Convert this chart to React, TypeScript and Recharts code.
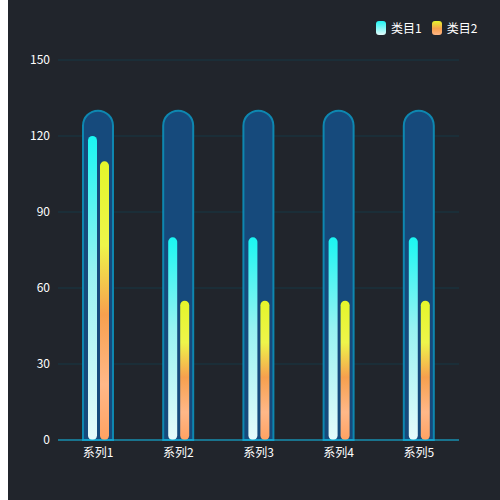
import { BarChart, Bar, XAxis, YAxis, CartesianGrid } from "recharts";

// Catégories et valeurs
const categories = ["系列1", "系列2", "系列3", "系列4", "系列5"];
const seriesNames = ["类目1", "类目2"];
const values1 = [120, 80, 80, 80, 80];
const values2 = [110, 55, 55, 55, 55];
const backValues = [130, 130, 130, 130, 130];
const yTicks = [0, 30, 60, 90, 120, 150];

const data = categories.map((name, i) => ({
    name,
    v1: values1[i],
    v2: values2[i],
    back: backValues[i],
}));

const legendGradients = [
    "linear-gradient(to bottom, #1ff5f2, #e4fbfb)",
    "linear-gradient(to bottom, #e6f52c, #f7a04e 55%, #ffb585)",
];

const font = "'Noto Sans CJK SC', sans-serif";

// Légende en HTML, posée au-dessus du graphique
function LegendBox() {
    return (
        <div style={{ position: "absolute", left: 368, top: 20, display: "flex", alignItems: "center", fontFamily: font, fontSize: 12, color: "#ffffff", lineHeight: "16px" }}>
            {seriesNames.map((s, i) => (
                <div key={s} style={{ display: "flex", alignItems: "center", marginLeft: i === 0 ? 0 : 10 }}>
                    <span style={{ width: 10, height: 14, borderRadius: 3, background: legendGradients[i], display: "inline-block", marginRight: 5 }} />
                    <span>{s}</span>
                </div>
            ))}
        </div>
    );
}

export default function App() {
    return (
        <div style={{ position: "absolute", left: 8, top: 0, width: 492, height: 500, background: "#21252c" }}>
            <BarChart
                width={492}
                height={500}
                data={data}
                barGap={3}
                margin={{ top: 60, right: 41, bottom: 30, left: 0 }}
            >
                <defs>
                    <linearGradient id="g1" x1="0" y1="0" x2="0" y2="1">
                        <stop offset="0%" stopColor="#1af6f2" />
                        <stop offset="45%" stopColor="#98f2f2" />
                        <stop offset="100%" stopColor="#e6fbfb" />
                    </linearGradient>
                    <linearGradient id="g2" x1="0" y1="0" x2="0" y2="1">
                        <stop offset="0%" stopColor="#e4f52a" />
                        <stop offset="30%" stopColor="#eef54a" />
                        <stop offset="55%" stopColor="#f7a04e" />
                        <stop offset="80%" stopColor="#ffb888" />
                        <stop offset="100%" stopColor="#ffa262" />
                    </linearGradient>
                </defs>
                <CartesianGrid vertical={false} stroke="#173845" />
                <XAxis
                    dataKey="name"
                    axisLine={{ stroke: "#19b8e2", strokeWidth: 1 }}
                    tickLine={false}
                    height={30}
                    tick={{ fill: "#ffffff", fontSize: 12, fontFamily: font }}
                />
                <XAxis xAxisId="back" dataKey="name" hide />
                <YAxis
                    width={50}
                    domain={[0, 150]}
                    ticks={yTicks}
                    axisLine={false}
                    tickLine={false}
                    tick={{ fill: "#ffffff", fontSize: 12, fontFamily: font }}
                />
                <Bar
                    xAxisId="back"
                    dataKey="back"
                    barSize={30}
                    fill="#164a7c"
                    stroke="#0e87b0"
                    strokeWidth={2}
                    radius={[15, 15, 0, 0]}
                    isAnimationActive={false}
                />
                <Bar dataKey="v1" name={seriesNames[0]} barSize={9} fill="url(#g1)" radius={4.5} isAnimationActive={false} />
                <Bar dataKey="v2" name={seriesNames[1]} barSize={9} fill="url(#g2)" radius={4.5} isAnimationActive={false} />
            </BarChart>
            <LegendBox />
        </div>
    );
}
